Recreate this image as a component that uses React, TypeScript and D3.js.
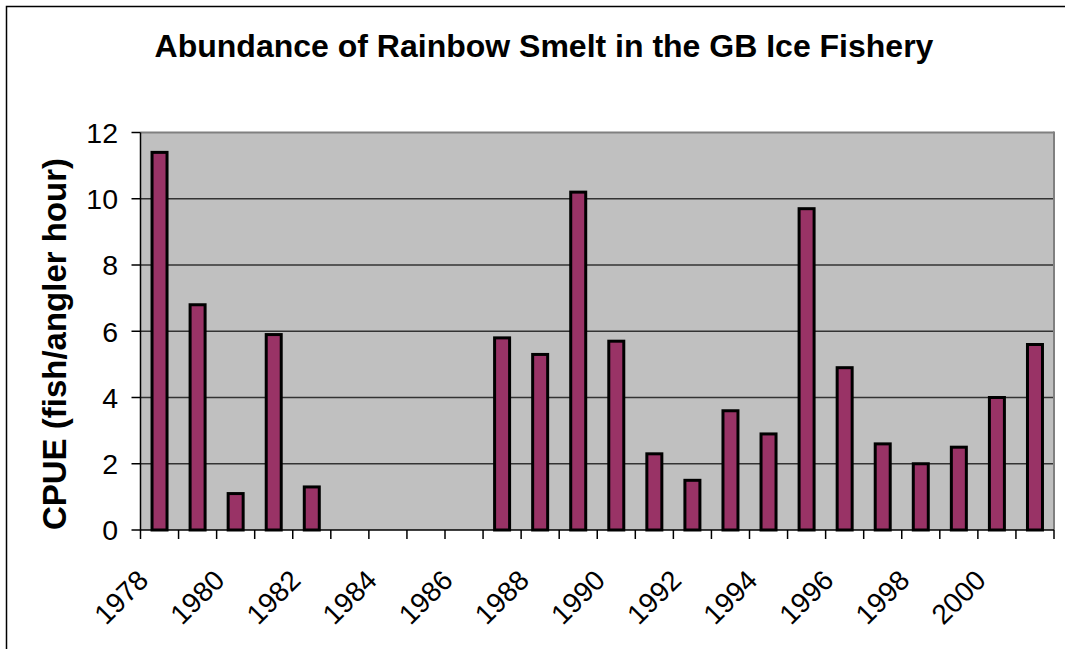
import React from "react";
import * as d3 from "d3";

const years: number[] = [1978,1979,1980,1981,1982,1983,1984,1985,1986,1987,1988,1989,1990,1991,1992,1993,1994,1995,1996,1997,1998,1999,2000,2001];
const cpue: (number | null)[] = [11.4,6.8,1.1,5.9,1.3,null,null,null,null,5.8,5.3,10.2,5.7,2.3,1.5,3.6,2.9,9.7,4.9,2.6,2.0,2.5,4.0,5.6];
const yTicks: number[] = [0,2,4,6,8,10,12];
const xLabelYears: number[] = [1978,1980,1982,1984,1986,1988,1990,1992,1994,1996,1998,2000];
const title = "Abundance of Rainbow Smelt in the GB Ice Fishery";
const yTitle = "CPUE (fish/angler hour)";

export default function App() {
  const W = 1065, H = 649;
  const left = 140.5, right = 1054, top = 132.5, bottom = 530;
  const x = d3.scaleBand<number>().domain(years).range([left, right]).paddingInner(0).paddingOuter(0);
  const y = d3.scaleLinear().domain([0, 12]).range([bottom, top]);
  const bw = x.bandwidth();
  const barW = 15;
  const font = "Liberation Sans, Arial, sans-serif";
  return (
    <svg width={W} height={H} style={{ position: "absolute", left: 0, top: 0 }} fontFamily={font}>
      <rect x={0} y={0} width={W} height={H} fill="#fff" />
      <rect x={6.5} y={6.5} width={W + 20} height={H + 20} fill="none" stroke="#000" strokeWidth={1.5} />
      <text x={544} y={56.5} textAnchor="middle" fontSize={32} fontWeight="bold">{title}</text>
      <rect x={left} y={top} width={right - left} height={bottom - top} fill="#C0C0C0" />
      {yTicks.filter(t => t > 0 && t < 12).map(t => (
        <line key={t} x1={left} x2={right} y1={y(t)} y2={y(t)} stroke="#333" strokeWidth={1.5} />
      ))}
      <line x1={left} x2={right} y1={top} y2={top} stroke="#808080" strokeWidth={2} />
      <line x1={right} x2={right} y1={top - 1} y2={bottom} stroke="#808080" strokeWidth={2} />
      {years.map((yr, i) => {
        const v = cpue[i];
        if (v == null) return null;
        const cx = (x(yr) as number) + bw / 2;
        return (
          <rect key={yr} x={cx - barW / 2} y={y(v)} width={barW} height={bottom - y(v)} fill="#993366" stroke="#000" strokeWidth={3} />
        );
      })}
      <line x1={left} x2={left} y1={top} y2={bottom} stroke="#000" strokeWidth={1.5} />
      <line x1={left} x2={right} y1={bottom} y2={bottom} stroke="#000" strokeWidth={1.5} />
      {yTicks.map(t => (
        <g key={t}>
          <line x1={left - 9} x2={left} y1={y(t)} y2={y(t)} stroke="#000" strokeWidth={1.5} />
          <text x={118} y={y(t)} dy="0.36em" textAnchor="end" fontSize={28.5}>{t}</text>
        </g>
      ))}
      {years.concat([2002]).map((yr, i) => {
        const xx = i < years.length ? (x(yr) as number) : right;
        return <line key={"t" + yr} x1={xx} x2={xx} y1={bottom} y2={bottom + 9} stroke="#000" strokeWidth={1.5} />;
      })}
      {xLabelYears.map(yr => {
        const cx = (x(yr) as number) + bw / 2 - 9.5;
        const yy = 582;
        return (
          <text key={"l" + yr} x={cx} y={yy} textAnchor="end" fontSize={28} transform={`rotate(-45 ${cx} ${yy})`}>{yr}</text>
        );
      })}
      <text x={0} y={0} transform={`translate(65.5 344) rotate(-90)`} textAnchor="middle" fontSize={33} fontWeight="bold">{yTitle}</text>
    </svg>
  );
}
